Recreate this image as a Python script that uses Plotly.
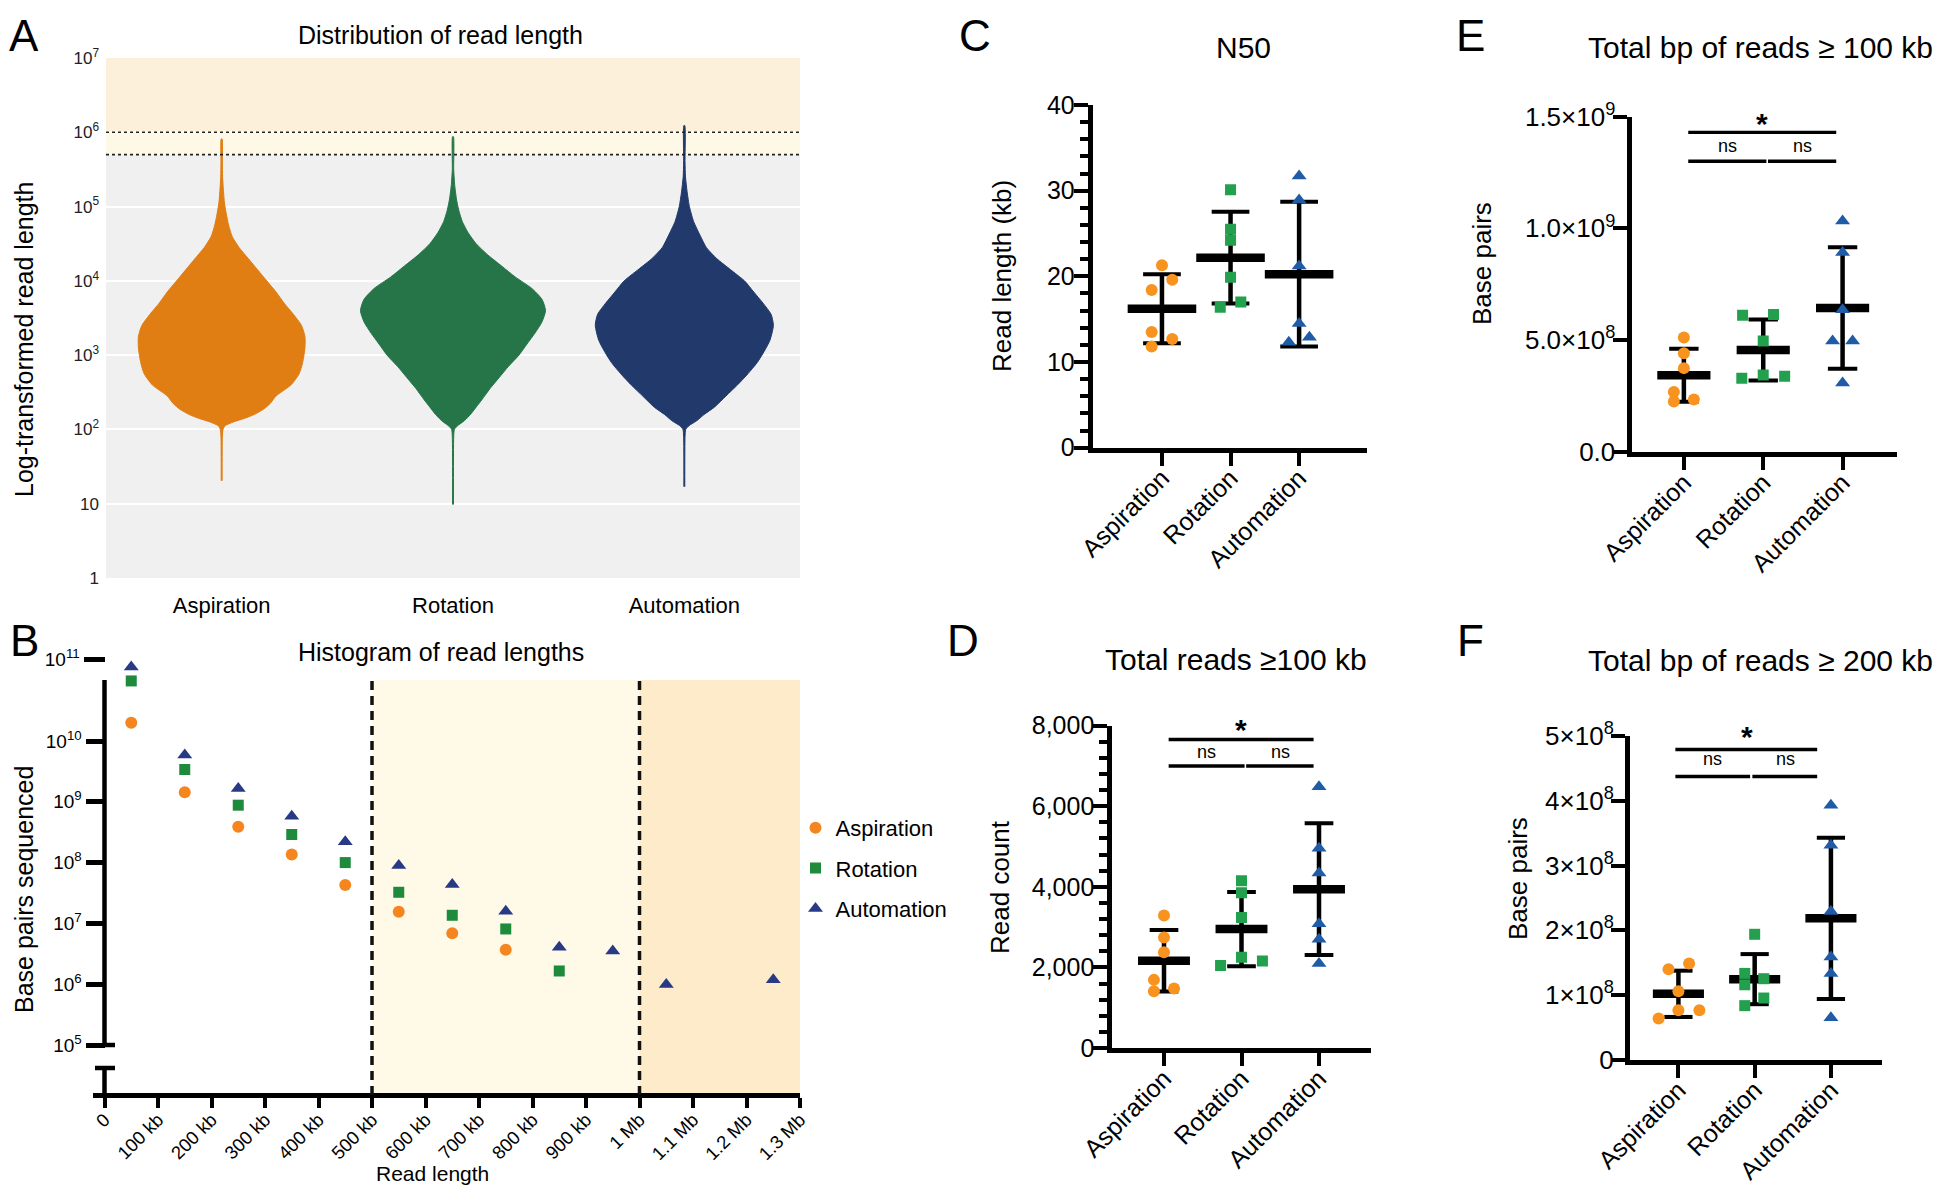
import numpy as np
import plotly.graph_objects as go

W, H = 1950, 1194
OFF = 8                      # default page body margin of the written html
FW, FH = W - 2 * OFF, H - 2 * OFF
FONT = "Liberation Sans, Arial, Helvetica, sans-serif"


def px(x):
    return (x - OFF) / FW


def py(y):
    return 1 - (y - OFF) / FH


GROUPS = ["Aspiration", "Rotation", "Automation"]

# ---------------- Panel A: violin profiles (log10 read length -> half width) ----------------
A_ASP_LOG = [1.31, 1.9, 2.0, 2.05, 2.1, 2.15, 2.2, 2.27, 2.35, 2.45, 2.6, 2.75, 2.9, 3.1, 3.25, 3.4,
             3.55, 3.7, 3.85, 4.0, 4.15, 4.3, 4.45, 4.6, 4.75, 4.9, 5.05, 5.2, 5.4, 5.6, 5.91]
A_ASP_W = [0.002, 0.003, 0.006, 0.015, 0.05, 0.10, 0.14, 0.18, 0.21, 0.235, 0.30, 0.335, 0.35, 0.36,
           0.36, 0.345, 0.31, 0.27, 0.235, 0.195, 0.155, 0.115, 0.075, 0.045, 0.03, 0.02, 0.012,
           0.008, 0.004, 0.003, 0.002]
A_ROT_LOG = [0.99, 1.9, 2.0, 2.05, 2.12, 2.2, 2.3, 2.4, 2.55, 2.7, 2.85, 3.0, 3.15, 3.3, 3.45, 3.6,
             3.75, 3.9, 4.05, 4.2, 4.35, 4.5, 4.65, 4.8, 4.95, 5.1, 5.3, 5.5, 5.94]
A_ROT_W = [0.002, 0.003, 0.006, 0.02, 0.05, 0.075, 0.10, 0.125, 0.16, 0.20, 0.24, 0.285, 0.32, 0.355,
           0.385, 0.40, 0.385, 0.34, 0.27, 0.21, 0.15, 0.10, 0.065, 0.04, 0.025, 0.015, 0.007,
           0.003, 0.002]
A_AUT_LOG = [1.23, 1.9, 2.0, 2.05, 2.12, 2.2, 2.3, 2.45, 2.6, 2.75, 2.9, 3.05, 3.2, 3.4, 3.55, 3.7,
             3.85, 4.0, 4.15, 4.3, 4.45, 4.6, 4.8, 5.0, 5.2, 5.4, 5.6, 6.09]
A_AUT_W = [0.002, 0.003, 0.006, 0.02, 0.055, 0.085, 0.13, 0.18, 0.23, 0.275, 0.315, 0.345, 0.37,
           0.385, 0.375, 0.34, 0.30, 0.26, 0.20, 0.14, 0.095, 0.07, 0.04, 0.022, 0.012, 0.005,
           0.003, 0.002]
A_YTICK_VALS = [1, 10, 1e2, 1e3, 1e4, 1e5, 1e6, 1e7]
A_YTICK_TEXT = ["1", "10", "10<sup>2</sup>", "10<sup>3</sup>", "10<sup>4</sup>", "10<sup>5</sup>",
                "10<sup>6</sup>", "10<sup>7</sup>"]
A_BAND_EDGES = [1, 5e5, 1e6, 1e7]

# ---------------- Panel B: histogram of read lengths (bp sequenced per 100 kb bin) ----------------
B_BIN_KB = [50, 150, 250, 350, 450, 550, 650, 750, 850, 950, 1050, 1150, 1250]
B_ASP = [1.67e10, 1.44e9, 3.9e8, 1.36e8, 4.3e7, 1.56e7, 6.9e6, 3.7e6, None, None, None, None, None]
B_ROT = [5.4e10, 3.4e9, 8.8e8, 2.9e8, 1.0e8, 3.25e7, 1.36e7, 8.1e6, 1.65e6, None, None, None, None]
B_AUT = [8.0e10, 5.9e9, 1.65e9, 5.8e8, 2.2e8, 9.0e7, 4.35e7, 1.58e7, 4.06e6, 3.5e6, 9.9e5, None, 1.18e6]
B_XTICK_VALS = [0, 100, 200, 300, 400, 500, 600, 700, 800, 900, 1000, 1100, 1200, 1300]
B_XTICK_TEXT = ["0", "100 kb", "200 kb", "300 kb", "400 kb", "500 kb", "600 kb", "700 kb", "800 kb",
                "900 kb", "1 Mb", "1.1 Mb", "1.2 Mb", "1.3 Mb"]
B_YTICK_VALS = [1e5, 1e6, 1e7, 1e8, 1e9, 1e10]
B_YTICK_TEXT = ["10<sup>5</sup>", "10<sup>6</sup>", "10<sup>7</sup>", "10<sup>8</sup>",
                "10<sup>9</sup>", "10<sup>10</sup>"]

# ---------------- Panel C: N50 (kb) ----------------
C_ASP = [21.3, 19.6, 18.4, 13.5, 12.7, 11.8]
C_ROT = [30.1, 25.5, 24.2, 19.9, 17.0, 16.4]
C_AUT = [31.7, 28.9, 21.2, 14.5, 12.9, 12.3]

# ---------------- Panel D: total reads >= 100 kb ----------------
D_ASP = [3286, 2742, 2376, 1690, 1408, 1474]
D_ROT = [4150, 3850, 3239, 2254, 2047, 2160]
D_AUT = [6479, 4958, 4338, 3080, 2695, 2094]

# ---------------- Panel E: total bp of reads >= 100 kb ----------------
E_ASP = [5.12e8, 4.41e8, 3.75e8, 2.68e8, 2.26e8, 2.35e8]
E_ROT = [6.11e8, 6.15e8, 4.96e8, 3.44e8, 3.30e8, 3.39e8]
E_AUT = [1.033e9, 0.892e9, 0.636e9, 0.496e9, 0.496e9, 0.309e9]
E_YTICK_VALS = [0, 5e8, 1e9, 1.5e9]
E_YTICK_TEXT = ["0.0", "5.0×10<sup>8</sup>", "1.0×10<sup>9</sup>", "1.5×10<sup>9</sup>"]

# ---------------- Panel F: total bp of reads >= 200 kb ----------------
F_ASP = [1.485e8, 1.397e8, 1.056e8, 0.763e8, 0.763e8, 0.634e8]
F_ROT = [1.937e8, 1.332e8, 1.250e8, 1.156e8, 0.951e8, 0.833e8]
F_AUT = [3.932e8, 3.316e8, 2.289e8, 1.585e8, 1.332e8, 0.646e8]
F_YTICK_VALS = [0, 1e8, 2e8, 3e8, 4e8, 5e8]
F_YTICK_TEXT = ["0", "1×10<sup>8</sup>", "2×10<sup>8</sup>", "3×10<sup>8</sup>", "4×10<sup>8</sup>",
                "5×10<sup>8</sup>"]

# ---------------- styles / layout constants ----------------
VIOLIN_COLORS = ["#E07D13", "#267548", "#213A6B"]
A_BAND_COLORS = ["#F0F0F0", "#FEF8E6", "#FDF0DA"]
B_COLORS = ["#F5861F", "#1E8A3C", "#283A86"]
DOT_COLORS = ["#F7931E", "#22A04E", "#1F5BA6"]
SYMBOLS = ["circle", "square", "triangle-up"]
B_SIZES = [12, 11, 13]
DOT_SIZES = [12, 11, 13]

# point jitter offsets (category units) to mimic the scatter layout
C_JIT = [[0, 0.15, -0.15, -0.15, 0.15, -0.15], [0, 0, 0, 0, 0.15, -0.15], [0, 0, 0, 0, 0.15, -0.15]]
D_JIT = [[0, 0, 0, -0.13, -0.13, 0.13], [0, 0, 0, 0, -0.27, 0.27], [0, 0, 0, 0, 0, 0]]
E_JIT = [[0, 0, 0, -0.126, -0.126, 0.126], [-0.26, 0.13, 0, 0, -0.27, 0.27], [0, 0, 0, -0.126, 0.126, 0]]
F_JIT = [[0.14, -0.13, 0, 0, 0.275, -0.26], [0, -0.13, 0.12, -0.13, 0.12, -0.13], [0, 0, 0, 0, 0, 0]]

fig = go.Figure()
shapes = []
annotations = []

# ======================= Panel A =======================
for i, (logs, ws, col) in enumerate(zip([A_ASP_LOG, A_ROT_LOG, A_AUT_LOG],
                                        [A_ASP_W, A_ROT_W, A_AUT_W], VIOLIN_COLORS)):
    logs = np.array(logs)
    ws = np.array(ws)
    xs = np.concatenate([i + ws, (i - ws)[::-1]])
    ys = np.concatenate([10 ** logs, (10 ** logs)[::-1]])
    fig.add_trace(go.Scatter(x=xs, y=ys, mode="lines", fill="toself", fillcolor=col,
                             line=dict(color=col, width=1, shape="spline", smoothing=0.6),
                             xaxis="x", yaxis="y", showlegend=False, hoverinfo="skip"))

for y0, y1, col in zip(A_BAND_EDGES[:-1], A_BAND_EDGES[1:], A_BAND_COLORS):
    shapes.append(dict(type="rect", xref="x domain", yref="y", x0=0, x1=1, y0=y0, y1=y1,
                       fillcolor=col, line=dict(width=0), layer="below"))
for yv in A_BAND_EDGES[1:3]:
    shapes.append(dict(type="line", xref="x domain", yref="y", x0=0, x1=1, y0=yv, y1=yv,
                       line=dict(color="#222", width=1.6, dash="dot"), layer="above"))

# ======================= Panel B =======================
for name, vals, col, sym, size in zip(GROUPS, [B_ASP, B_ROT, B_AUT], B_COLORS, SYMBOLS, B_SIZES):
    lo = [(x, v) for x, v in zip(B_BIN_KB, vals) if v is not None and v < 1e10]
    hi = [(x, v) for x, v in zip(B_BIN_KB, vals) if v is not None and v >= 1e10]
    fig.add_trace(go.Scatter(x=[p[0] for p in lo], y=[p[1] for p in lo], mode="markers",
                             marker=dict(color=col, symbol=sym, size=size, line=dict(width=0)),
                             name=name, legendgroup=name, xaxis="x2", yaxis="y2"))
    fig.add_trace(go.Scatter(x=[p[0] for p in hi], y=[p[1] for p in hi], mode="markers",
                             marker=dict(color=col, symbol=sym, size=size, line=dict(width=0)),
                             name=name, legendgroup=name, showlegend=False, xaxis="x2", yaxis="y7"))

B_XAXIS_Y = 1095
B_SHADE_TOP = 680
shapes += [
    dict(type="rect", xref="x2", yref="paper", x0=500, x1=1000, y0=py(B_XAXIS_Y), y1=py(B_SHADE_TOP),
         fillcolor="#FFFAE8", line=dict(width=0), layer="below"),
    dict(type="rect", xref="x2", yref="paper", x0=1000, x1=1300, y0=py(B_XAXIS_Y), y1=py(B_SHADE_TOP),
         fillcolor="#FDEBC9", line=dict(width=0), layer="below"),
]
for xv in [500, 1000]:
    shapes.append(dict(type="line", xref="x2", yref="paper", x0=xv, x1=xv, y0=py(B_XAXIS_Y),
                       y1=py(B_SHADE_TOP), line=dict(color="#111", width=3.5, dash="9px,6px")))
# broken y axis line segments
shapes += [
    dict(type="line", xref="x2", yref="paper", x0=0, x1=0, y0=py(1045), y1=py(680),
         line=dict(color="black", width=4.5)),
    dict(type="line", xref="x2", yref="paper", x0=0, x1=0, y0=py(B_XAXIS_Y), y1=py(1068),
         line=dict(color="black", width=4.5)),
    dict(type="line", xref="paper", yref="paper", x0=px(95), x1=px(115), y0=py(1068), y1=py(1068),
         line=dict(color="black", width=4.5)),
    dict(type="line", xref="paper", yref="paper", x0=px(104), x1=px(115), y0=py(1045), y1=py(1045),
         line=dict(color="black", width=4.5)),
]


# ======================= Dot plots (C–F) =======================
def add_dot_panel(n, datasets, jitters, bar_half, cap_half):
    for i, (vals, jit, col, sym, size) in enumerate(zip(datasets, jitters, DOT_COLORS, SYMBOLS, DOT_SIZES)):
        v = np.array(vals, dtype=float)
        m = v.mean()
        sd = v.std(ddof=1)
        kw = dict(xaxis="x" + n, yaxis="y" + n, showlegend=False, hoverinfo="skip", mode="lines")
        fig.add_trace(go.Scatter(x=[i, i], y=[m - sd, m + sd], line=dict(color="black", width=4.5), **kw))
        fig.add_trace(go.Scatter(x=[i - cap_half, i + cap_half, None, i - cap_half, i + cap_half],
                                 y=[m - sd, m - sd, None, m + sd, m + sd],
                                 line=dict(color="black", width=4), **kw))
        fig.add_trace(go.Scatter(x=[i - bar_half, i + bar_half], y=[m, m],
                                 line=dict(color="black", width=8.5), **kw))
        fig.add_trace(go.Scatter(x=[i + j for j in jit], y=vals, mode="markers",
                                 marker=dict(color=col, symbol=sym, size=size, line=dict(width=0)),
                                 xaxis="x" + n, yaxis="y" + n, showlegend=False))


add_dot_panel("3", [C_ASP, C_ROT, C_AUT], C_JIT, 0.5, 0.275)
add_dot_panel("4", [E_ASP, E_ROT, E_AUT], E_JIT, 0.335, 0.185)
add_dot_panel("5", [D_ASP, D_ROT, D_AUT], D_JIT, 0.335, 0.185)
add_dot_panel("6", [F_ASP, F_ROT, F_AUT], F_JIT, 0.335, 0.185)

# significance brackets
BRACKETS = [
    ("5", 7653, 6995, 0.06, 1.04, 1.06, 1.93, 7343, (0.55, 1.50), 0.99, 7900),
    ("4", 1.429e9, 1.30e9, 0.055, 1.04, 1.06, 1.92, 1.366e9, (0.546, 1.50), 0.99, 1.47e9),
    ("6", 4.795e8, 4.378e8, -0.04, 0.94, 0.97, 1.82, 4.65e8, (0.45, 1.40), 0.90, 4.99e8),
]
for n, sy, nsy, xl, xml, xmr, xr, nty, nsx, stx, sty in BRACKETS:
    for (a, b, yy) in [(xl, xr, sy), (xl, xml, nsy), (xmr, xr, nsy)]:
        shapes.append(dict(type="line", xref="x" + n, yref="y" + n, x0=a, x1=b, y0=yy, y1=yy,
                           line=dict(color="black", width=3.4)))
    for xx in nsx:
        annotations.append(dict(x=xx, y=nty, xref="x" + n, yref="y" + n, text="ns", showarrow=False,
                                font=dict(size=18, family=FONT, color="black")))
    annotations.append(dict(x=stx, y=sty, xref="x" + n, yref="y" + n, text="<b>*</b>", showarrow=False,
                            font=dict(size=30, family=FONT, color="black")))


# ======================= Text annotations =======================
def txt(x, y, text, size, angle=0, xanchor="center"):
    annotations.append(dict(x=px(x), y=py(y), xref="paper", yref="paper", text=text, showarrow=False,
                            textangle=angle, xanchor=xanchor, yanchor="middle",
                            font=dict(size=size, family=FONT, color="black")))


for lab, x, y in [("A", 24, 35), ("B", 24, 640), ("C", 975, 35), ("D", 963, 640), ("E", 1470, 35),
                  ("F", 1470, 640)]:
    txt(x, y, lab, 44)

txt(440, 35, "Distribution of read length", 25)
txt(441, 652, "Histogram of read lengths", 25)
txt(1243, 48, "N50", 30)
txt(1586, 48, "Total bp of reads ≥ 100 kb", 30, xanchor="left")
txt(1103, 659, "Total reads ≥100 kb", 30, xanchor="left")
txt(1586, 660, "Total bp of reads ≥ 200 kb", 30, xanchor="left")

txt(24, 340, "Log-transformed read length", 25, angle=-90)
txt(24, 890, "Base pairs sequenced", 25, angle=-90)
txt(432, 1173, "Read length", 21)
txt(1002, 276, "Read length (kb)", 26, angle=-90)
txt(1482, 264, "Base pairs", 26, angle=-90)
txt(1000, 887, "Read count", 26, angle=-90)
txt(1518, 879, "Base pairs", 26, angle=-90)

# ======================= Axes =======================
blk = "black"
xtickfont_dot = dict(size=25, family=FONT, color=blk)


def dot_x(dom_l, dom_r, rng, anchor):
    return dict(domain=[px(dom_l), px(dom_r)], range=rng, anchor=anchor, tickmode="array",
                tickvals=[0, 1, 2], ticktext=GROUPS, tickangle=-45, ticks="outside", ticklen=13,
                tickwidth=4, tickcolor=blk, showline=True, linewidth=5, linecolor=blk,
                tickfont=xtickfont_dot, showgrid=False, zeroline=False, ticklabelstandoff=-12)


def dot_y(top, bottom, rng, anchor, fsize, standoff, **extra):
    d = dict(domain=[py(bottom), py(top)], range=rng, anchor=anchor, ticks="outside", ticklen=14,
             tickwidth=4, tickcolor=blk, showline=True, linewidth=5, linecolor=blk,
             tickfont=dict(size=fsize, family=FONT, color=blk), showgrid=False, zeroline=False,
             ticklabelstandoff=standoff)
    d.update(extra)
    return d


layout = dict(
    width=FW, height=FH, template="none", margin=dict(l=0, r=0, t=0, b=0),
    paper_bgcolor="white", plot_bgcolor="rgba(0,0,0,0)",
    font=dict(family=FONT, color=blk),
    showlegend=True,
    legend=dict(x=px(795.5), y=py(807), xanchor="left", yanchor="top", bgcolor="rgba(0,0,0,0)",
                font=dict(size=22, family=FONT, color=blk), tracegroupgap=8.7, traceorder="grouped",
                itemwidth=30),
    # Panel A
    xaxis=dict(domain=[px(106), px(800)], range=[-0.5, 2.5], anchor="y", tickmode="array",
               tickvals=[0, 1, 2], ticktext=GROUPS, ticks="", showgrid=False, zeroline=False,
               showline=False, tickfont=dict(size=22, family=FONT, color=blk), ticklabelstandoff=12),
    yaxis=dict(domain=[py(578), py(58)], type="log", range=[0, 7], anchor="x", tickmode="array",
               tickvals=A_YTICK_VALS, ticktext=A_YTICK_TEXT, ticks="", showgrid=True,
               gridcolor="white", gridwidth=2, zeroline=False, showline=False,
               tickfont=dict(size=17, family=FONT, color="#222"), ticklabelstandoff=6),
    # Panel B
    xaxis2=dict(domain=[px(93), px(800)], range=[-21.5, 1300], anchor="free", position=py(B_XAXIS_Y),
                tickmode="array", tickvals=B_XTICK_VALS, ticktext=B_XTICK_TEXT, tickangle=-45,
                ticks="outside", ticklen=10, tickwidth=3.5, tickcolor=blk, showline=True, linewidth=4.5,
                linecolor=blk, showgrid=False, zeroline=False, ticklabelstandoff=-6,
                tickfont=dict(size=18.5, family=FONT, color=blk)),
    yaxis2=dict(domain=[py(1045), py(741)], type="log", range=[5, 10], anchor="free", position=px(104.5),
                tickmode="array", tickvals=B_YTICK_VALS, ticktext=B_YTICK_TEXT, ticks="outside",
                ticklen=19, tickwidth=4.5, tickcolor=blk, showline=False, showgrid=False, zeroline=False,
                tickfont=dict(size=19, family=FONT, color=blk)),
    yaxis7=dict(domain=[py(741), py(659)], type="log", range=[10, 11], anchor="free", position=px(104.5),
                tickmode="array", tickvals=[1e11], ticktext=["10<sup>11</sup>"], ticks="outside",
                ticklen=21, tickwidth=4.5, tickcolor=blk, showline=False, showgrid=False, zeroline=False,
                tickfont=dict(size=19, family=FONT, color=blk)),
    # Panel C
    xaxis3=dot_x(1092.7, 1367, [-1.01, 2.99], "y3"),
    yaxis3=dot_y(105, 447.7, [0, 40], "x3", 25, -6, tickmode="linear", tick0=0, dtick=10,
                 minor=dict(dtick=2, ticks="outside", ticklen=8, tickwidth=3.5, tickcolor=blk)),
    # Panel E
    xaxis4=dot_x(1631.5, 1896.7, [-0.66, 2.682], "y4"),
    yaxis4=dot_y(116.5, 452, [0, 1.5e9], "x4", 26, -8, tickmode="array", tickvals=E_YTICK_VALS,
                 ticktext=E_YTICK_TEXT),
    # Panel D
    xaxis5=dot_x(1112.3, 1370.7, [-0.667, 2.667], "y5"),
    yaxis5=dot_y(725.5, 1048, [0, 8000], "x5", 25, -6, tickmode="linear", tick0=0, dtick=2000,
                 tickformat=",", minor=dict(dtick=400, ticks="outside", ticklen=8, tickwidth=3.5,
                                            tickcolor=blk)),
    # Panel F
    xaxis6=dot_x(1630, 1881.7, [-0.635, 2.666], "y6"),
    yaxis6=dot_y(736.3, 1059.5, [0, 5e8], "x6", 26, -8, tickmode="array", tickvals=F_YTICK_VALS,
                 ticktext=F_YTICK_TEXT),
    shapes=shapes,
    annotations=annotations,
)
fig.update_layout(**layout)
fig.write_html("out.html")
